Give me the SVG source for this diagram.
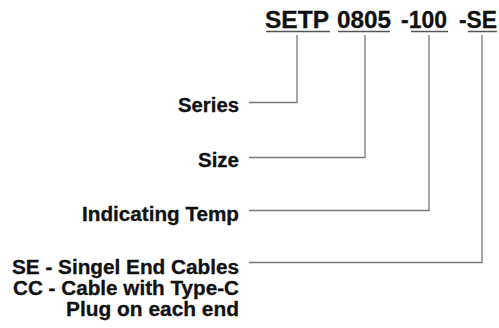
<svg xmlns="http://www.w3.org/2000/svg" width="499" height="328" viewBox="0 0 499 328">
<style>
.t{font-family:"Liberation Sans",Arial,sans-serif;font-weight:bold;fill:#111;stroke:#111;stroke-width:0.3;}
.title{font-size:23.5px;}
.lab{font-size:20px;text-anchor:end;}
.ul{stroke:#555;stroke-width:1.5;fill:none;}
.c{stroke:#777;stroke-width:1.3;fill:none;}
</style>
<rect width="499" height="328" fill="#fff"/>
<g id="code">
<text class="t title" x="265" y="28" textLength="64" lengthAdjust="spacingAndGlyphs">SETP</text>
<text class="t title" x="337" y="28" textLength="54" lengthAdjust="spacingAndGlyphs">0805</text>
<text class="t title" x="401" y="28" textLength="46" lengthAdjust="spacingAndGlyphs">-100</text>
<text class="t title" x="459" y="28" textLength="38" lengthAdjust="spacingAndGlyphs">-SE</text>
<path class="ul" d="M266 31.5H330M338 31.5H390M411 31.5H448M468 31.5H497"/>
</g>
<g id="series"><text class="t lab" x="239" y="112" textLength="61" lengthAdjust="spacingAndGlyphs">Series</text></g>
<g id="size"><text class="t lab" x="239" y="167" textLength="41" lengthAdjust="spacingAndGlyphs">Size</text></g>
<g id="temp"><text class="t lab" x="239" y="221" textLength="157" lengthAdjust="spacingAndGlyphs">Indicating Temp</text></g>
<g id="ending">
<text class="t lab" x="239" y="273.5" textLength="227" lengthAdjust="spacingAndGlyphs">SE - Singel End Cables</text>
<text class="t lab" x="239" y="294.5" textLength="226" lengthAdjust="spacingAndGlyphs">CC - Cable with Type-C</text>
<text class="t lab" x="239" y="315.5" textLength="173" lengthAdjust="spacingAndGlyphs">Plug on each end</text>
</g>
<g id="connectors">
<path class="c" d="M297 35V102.5H249"/>
<path class="c" d="M365 35V157.5H249"/>
<path class="c" d="M429 35V210.5H249"/>
<path class="c" d="M482 35V262.5H249"/>
</g>
</svg>
